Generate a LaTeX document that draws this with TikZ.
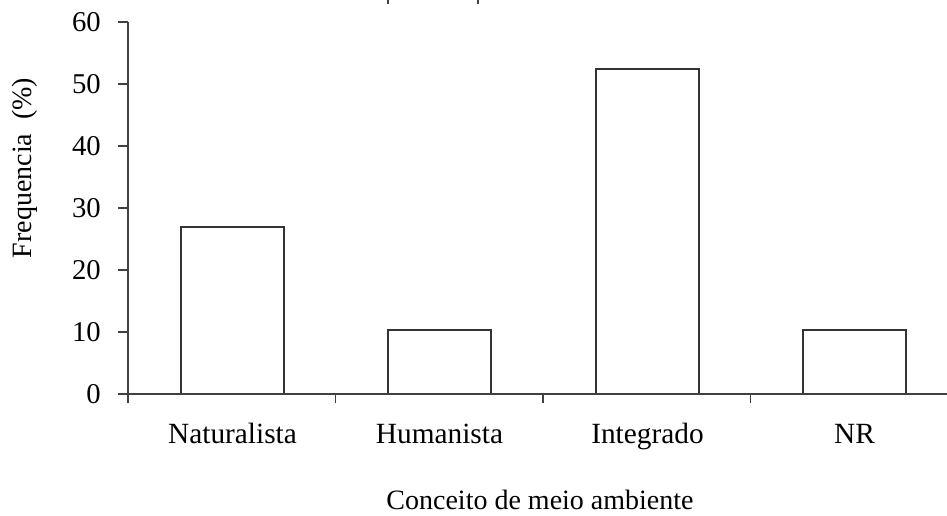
\documentclass[tikz,border=0pt]{standalone}
\usepackage{fontspec}
\setmainfont{Liberation Serif}
\begin{document}
\begin{tikzpicture}[x=0.75pt,y=-0.75pt,
  axis/.style={draw=black!75,line width=1.1pt},
  bar/.style={draw=black!80,line width=1.1pt,fill=white},
  ticklab/.style={anchor=east,inner sep=0pt,font=\fontsize{21.5}{25}\selectfont},
  catlab/.style={anchor=base,inner sep=0pt,font=\fontsize{22}{26}\selectfont},
  titlelab/.style={inner sep=0pt,font=\fontsize{21}{25}\selectfont}]
\useasboundingbox (0,0) rectangle (947,516);
% stray marks at top edge
\draw[axis,line width=1.4pt] (388,0) -- (388,4);
\draw[axis,line width=1.4pt] (478,0) -- (478,4);
% bars
\draw[bar] (181,394) rectangle (284,227);
\draw[bar] (388,394) rectangle (491,330);
\draw[bar] (596,394) rectangle (699,69);
\draw[bar] (803,394) rectangle (906,330);
% axes
\draw[axis] (128,22) -- (128,403);
\draw[axis] (119,394) -- (947,394);
\foreach \v in {0,10,...,60}{
  \draw[axis] (118,{394-6.2*\v}) -- (128,{394-6.2*\v});
  \node[ticklab] (t\v) at (101,{394-6.2*\v}) {\v};
}
\foreach \xx in {335.5,543,750.5}{
  \draw[axis] (\xx,394) -- (\xx,403);
}
% category labels
\node[catlab] (c1) at (232.5,444) {Naturalista};
\node[catlab] (c2) at (439.5,444) {Humanista};
\node[catlab] (c3) at (647.5,444) {Integrado};
\node[catlab] (c4) at (854.5,444) {NR};
% axis titles
\node[titlelab,anchor=base] (xt) at (540,510) {Conceito de meio ambiente};
\node[titlelab,rotate=90] (yt) at (25,168) {Frequencia\ \ (\%)};
\end{tikzpicture}
\end{document}
